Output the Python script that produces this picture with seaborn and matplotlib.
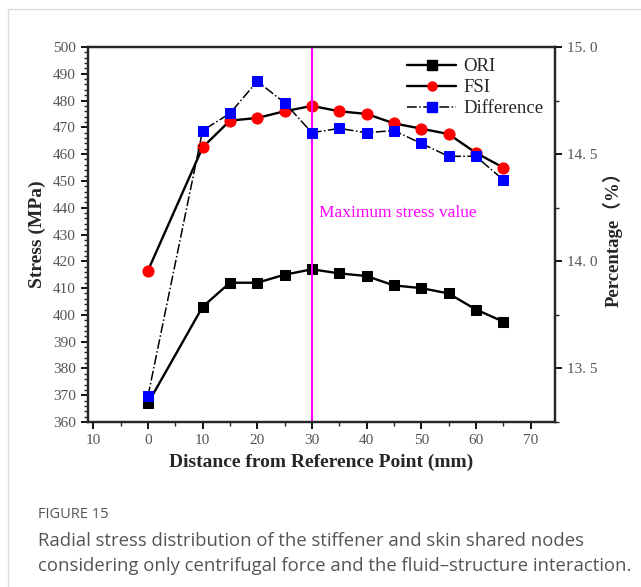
# radial stress chart - ORI / FSI / Difference

import pandas as pd
import matplotlib
matplotlib.use('Agg')
import matplotlib.pyplot as plt
import seaborn as sns
from matplotlib.lines import Line2D
from matplotlib.ticker import MultipleLocator

# data
distance = [0, 10, 15, 20, 25, 30, 35, 40, 45, 50, 55, 60, 65]
ori = [367, 403, 412, 412, 415, 417, 415.5, 414.5, 411, 410, 408, 402, 397.5]
fsi = [416.5, 462.5, 472.5, 473.5, 476, 478, 476, 475, 471.5, 469.5, 467.5, 460.5, 455]
difference = [13.37, 14.61, 14.69, 14.84, 14.74, 14.60, 14.62, 14.60, 14.61, 14.55, 14.49, 14.49, 14.38]

x_ticks = [-10, 0, 10, 20, 30, 40, 50, 60, 70]
x_tick_labels = ['10', '0', '10', '20', '30', '40', '50', '60', '70']
right_ticks = [13.5, 14.0, 14.5, 15.0]
right_tick_labels = ['13. 5', '14. 0', '14. 5', '15. 0']

df = pd.DataFrame({'distance': distance, 'ORI': ori, 'FSI': fsi, 'Difference': difference})

sns.set_style('ticks')
plt.rcParams['font.family'] = ['Liberation Serif', 'Noto Sans CJK SC', 'DejaVu Sans']

fig = plt.figure(figsize=(6.41, 5.87), dpi=100)
ax = fig.add_axes([0.137, 0.281, 0.729, 0.639])
ax2 = ax.twinx()

sns.lineplot(data=df, x='distance', y='ORI', ax=ax, color='black', lw=1.7,
             marker='s', markersize=7.5, markerfacecolor='black', markeredgecolor='black')
sns.lineplot(data=df, x='distance', y='FSI', ax=ax, color='black', lw=1.7,
             marker='o', markersize=8, markerfacecolor='red', markeredgecolor='red')
sns.lineplot(data=df, x='distance', y='Difference', ax=ax2, color='black', lw=1.1,
             linestyle='-.', marker='s', markersize=7, markerfacecolor='blue',
             markeredgecolor='blue')

ax.axvline(30, color='#ff00ff', lw=1.5)
ax.text(31.3, 438, 'Maximum stress value', color='#ff00ff', fontsize=12.5, va='center')

ax.set_xlim(-11, 74.5)
ax.set_ylim(360, 500)
ax2.set_ylim(13.25, 15.0)

ax.set_xticks(x_ticks)
ax.set_xticklabels(x_tick_labels)
ax.xaxis.set_minor_locator(MultipleLocator(5))
ax.yaxis.set_major_locator(MultipleLocator(10))
ax.yaxis.set_minor_locator(MultipleLocator(2))
ax2.set_yticks(right_ticks)
ax2.set_yticklabels(right_tick_labels)
ax2.yaxis.set_minor_locator(MultipleLocator(0.25))

for a in (ax, ax2):
    a.tick_params(which='major', length=5, width=1.3, colors='black', labelcolor='#555555', labelsize=11)
    a.tick_params(which='minor', length=3, width=1.0)
    for s in a.spines.values():
        s.set_linewidth(1.6)
        s.set_visible(True)

ax.set_xlabel('Distance from Reference Point (mm)', fontsize=14, fontweight='bold', labelpad=5)
ax.set_ylabel('Stress (MPa)', fontsize=14, fontweight='bold', labelpad=5)
ax2.set_ylabel('Percentage（%）', fontsize=13.5, fontweight='bold', labelpad=4)

handles = [
    Line2D([], [], color='black', lw=1.7, marker='s', markersize=6.5, markerfacecolor='black'),
    Line2D([], [], color='black', lw=1.7, marker='o', markersize=6.5, markerfacecolor='red', markeredgecolor='red'),
    Line2D([], [], color='black', lw=1.1, linestyle='-.', marker='s', markersize=6.5,
           markerfacecolor='blue', markeredgecolor='blue'),
]
ax.legend(handles, ['ORI', 'FSI', 'Difference'], loc='upper right', frameon=False,
          fontsize=13.5, handlelength=2.6, handletextpad=0.4, labelspacing=0.2,
          borderaxespad=0.2, bbox_to_anchor=(1.0, 1.0))

# card border and caption
fig.add_artist(Line2D([0.0125, 0.0125], [0.0, 0.985], transform=fig.transFigure, color='#dddddd', lw=1))
fig.add_artist(Line2D([0.0125, 1.0], [0.985, 0.985], transform=fig.transFigure, color='#dddddd', lw=1))
fig.text(0.059, 1 - 515 / 587, 'FIGURE 15', fontsize=10.5, color='#555555',
         family=['Open Sans', 'DejaVu Sans'], va='center')
fig.text(0.059, 1 - 541 / 587, 'Radial stress distribution of the stiffener and skin shared nodes',
         fontsize=13.3, color='#555555', family=['Open Sans', 'DejaVu Sans'], va='center')
fig.text(0.059, 1 - 566 / 587, 'considering only centrifugal force and the fluid\u2013structure interaction.',
         fontsize=13.3, color='#555555', family=['Open Sans', 'DejaVu Sans'], va='center')

fig.savefig('out.png', dpi=100)
